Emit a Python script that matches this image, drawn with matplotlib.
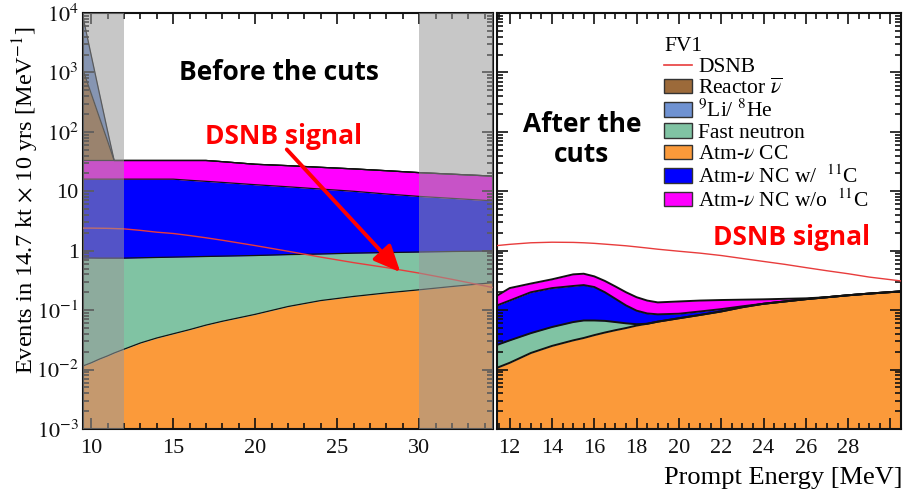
import numpy as np
import matplotlib
matplotlib.use("Agg")
import matplotlib.pyplot as plt
from matplotlib.patches import Patch
from matplotlib.lines import Line2D
from matplotlib.ticker import FixedLocator, MultipleLocator, LogLocator, NullFormatter, FixedFormatter

plt.rcParams["font.family"] = ["Liberation Serif", "DejaVu Serif"]
plt.rcParams["mathtext.fontset"] = "stix"

# ---------------- spectra before the cuts (events / MeV) ----------------
e_before = [9.5, 10, 10.5, 11, 11.4, 12, 13, 14, 15, 16, 17, 18, 20, 22, 24, 26, 28, 30, 32, 34.5]
cc_before = [0.0115, 0.013, 0.015, 0.017, 0.019, 0.022, 0.028, 0.034, 0.040, 0.047,
             0.056, 0.065, 0.085, 0.115, 0.145, 0.17, 0.195, 0.22, 0.25, 0.29]
fn_before = [0.74, 0.74, 0.735, 0.733, 0.731, 0.728, 0.732, 0.736, 0.74, 0.743,
             0.744, 0.745, 0.745, 0.745, 0.735, 0.74, 0.735, 0.73, 0.72, 0.70]
nc11_before = [15.25, 15.25, 15.25, 15.25, 15.25, 15.25, 15.24, 15.23, 15.22, 14.51,
               13.9, 13.29, 12.07, 11.04, 10.02, 9.09, 8.07, 7.25, 6.63, 5.91]
ncno11_before = [17, 17, 17, 17, 17, 17, 17, 17, 17, 17.7,
                 18.3, 17.4, 15.6, 15.1, 14.4, 13.8, 13.2, 12.4, 11.8, 11.1]
reactor_before = [1067, 407, 142, 37, 0, 0, 0, 0, 0, 0,
                  0, 0, 0, 0, 0, 0, 0, 0, 0, 0]
lihe_before = [7500, 1500, 270, 33, 0, 0, 0, 0, 0, 0,
               0, 0, 0, 0, 0, 0, 0, 0, 0, 0]
dsnb_before = [2.4, 2.4, 2.39, 2.38, 2.36, 2.33, 2.2, 2.05, 1.95, 1.8,
               1.65, 1.5, 1.22, 0.98, 0.78, 0.63, 0.52, 0.42, 0.33, 0.24]

# ---------------- spectra after the cuts ----------------
e_after = [11.4, 12, 13, 14, 15, 15.5, 16, 16.5, 17, 17.5, 18, 18.5,
           19, 20, 21, 22, 23, 24, 25, 26, 27, 28, 29, 30.5]
cc_after = [0.0107, 0.013, 0.019, 0.025, 0.031, 0.034, 0.038, 0.042, 0.046, 0.050, 0.055, 0.059,
            0.064, 0.073, 0.083, 0.095, 0.112, 0.128, 0.14, 0.153, 0.165, 0.178, 0.19, 0.207]
fn_after = [0.0153, 0.018, 0.022, 0.027, 0.032, 0.033, 0.029, 0.024, 0.017, 0.010, 0.003, 0,
            0, 0, 0, 0, 0, 0, 0, 0, 0, 0, 0, 0]
nc11_after = [0.094, 0.114, 0.159, 0.183, 0.192, 0.197, 0.178, 0.134, 0.092, 0.060, 0.040, 0.029,
              0.021, 0.014, 0.012, 0.009, 0.004, 0, 0, 0, 0, 0, 0, 0]
ncno11_after = [0.055, 0.09, 0.08, 0.095, 0.145, 0.146, 0.125, 0.11, 0.095, 0.08, 0.067, 0.057,
                0.05, 0.053, 0.05, 0.044, 0.034, 0.024, 0.015, 0.005, 0, 0, 0, 0]
dsnb_after = [1.22, 1.28, 1.36, 1.39, 1.38, 1.36, 1.33, 1.29, 1.25, 1.21, 1.16, 1.11,
              1.06, 0.98, 0.91, 0.83, 0.74, 0.66, 0.59, 0.52, 0.46, 0.41, 0.36, 0.31]

ytick_vals = [1e-3, 1e-2, 1e-1, 1, 10, 1e2, 1e3, 1e4]
ytick_text = [r"$10^{-3}$", r"$10^{-2}$", r"$10^{-1}$", "1", "10", r"$10^{2}$", r"$10^{3}$", r"$10^{4}$"]

labels = ["DSNB", r"Reactor $\overline{\nu}$", r"$^{9}$Li/ $^{8}$He", "Fast neutron",
          r"Atm-$\nu$ CC", r"Atm-$\nu$ NC w/  $^{11}$C", r"Atm-$\nu$ NC w/o  $^{11}$C"]

c_cc = "#fb9a3a"
c_fn = "#80c3a3"
c_nc11 = "#0000ff"
c_ncno = "#ff00ff"
c_reac = "#9c6a3a"
c_lihe = "#6f92d2"
c_dsnb = "#e83c3c"

fig = plt.figure(figsize=(9.14, 4.97), dpi=100)
H = 497.0
W = 914.0
ax1 = fig.add_axes([83 / W, (H - 429) / H, (493 - 83) / W, (429 - 13) / H])
ax2 = fig.add_axes([497 / W, (H - 429) / H, (901 - 497) / W, (429 - 13) / H])

ymin = 1e-3


def stack(ax, x, layers, lw):
    cum = np.zeros(len(x))
    for vals, col in layers:
        top = cum + np.asarray(vals, dtype=float)
        lower = np.maximum(cum, ymin)
        ax.fill_between(x, lower, np.maximum(top, ymin), color=col, lw=0, zorder=1)
        cum = top
    cum = np.zeros(len(x))
    for vals, col in layers:
        cum = cum + np.asarray(vals, dtype=float)
        ax.plot(x, np.maximum(cum, ymin), color="#111111", lw=lw, zorder=2)


stack(ax1, e_before, [(cc_before, c_cc), (fn_before, c_fn), (nc11_before, c_nc11),
                      (ncno11_before, c_ncno), (reactor_before, c_reac), (lihe_before, c_lihe)], 0.9)
ax1.plot(e_before, dsnb_before, color=c_dsnb, lw=1.0, zorder=3)
ax1.axvspan(9.5, 12, color="#999999", alpha=0.55, lw=0, zorder=4)
ax1.axvspan(30, 34.5, color="#999999", alpha=0.55, lw=0, zorder=4)

stack(ax2, e_after, [(cc_after, c_cc), (fn_after, c_fn), (nc11_after, c_nc11),
                     (ncno11_after, c_ncno)], 1.4)
ax2.plot(e_after, dsnb_after, color=c_dsnb, lw=1.0, zorder=3)

for ax in (ax1, ax2):
    ax.set_yscale("log")
    ax.set_ylim(1e-3, 1e4)
    ax.yaxis.set_major_locator(FixedLocator(ytick_vals))
    ax.yaxis.set_minor_locator(LogLocator(base=10, subs=np.arange(2, 10), numticks=20))
    ax.yaxis.set_minor_formatter(NullFormatter())
    ax.tick_params(which="both", direction="in", top=True, right=True, width=1.2, colors="#111111")
    ax.tick_params(which="major", length=8, labelsize=16, pad=7)
    ax.tick_params(which="minor", length=4)
    ax.tick_params(axis="y", which="major", pad=3)
    for s in ax.spines.values():
        s.set_linewidth(1.5)
        s.set_color("#111111")

ax1.set_xlim(9.5, 34.5)
ax1.xaxis.set_major_locator(MultipleLocator(5))
ax1.xaxis.set_minor_locator(MultipleLocator(1))
ax1.yaxis.set_major_formatter(FixedFormatter(ytick_text))

ax2.set_xlim(11.4, 30.5)
ax2.xaxis.set_major_locator(FixedLocator([12, 14, 16, 18, 20, 22, 24, 26, 28, 30]))
ax2.xaxis.set_major_formatter(FixedFormatter(["12", "14", "16", "18", "20", "22", "24", "26", "28", ""]))
ax2.xaxis.set_minor_locator(MultipleLocator(0.5))
ax2.yaxis.set_major_formatter(NullFormatter())

ax1.set_ylabel(r"Events in 14.7 kt $\times$ 10 yrs [MeV$^{-1}$]", fontsize=17.6)
ax1.yaxis.set_label_coords((41 - 83) / 410, (429 - 200) / 416)
fig.text(903 / W, 1 - 478 / H, "Prompt Energy [MeV]", ha="right", va="center", fontsize=19)

sans = ["Open Sans", "DejaVu Sans"]
ax1.text(0.478, 0.858, "Before the cuts", transform=ax1.transAxes, ha="center", va="center",
         family=sans, weight="bold", fontsize=19, color="black", zorder=6)
ax1.text(0.488, 0.702, "DSNB signal", transform=ax1.transAxes, ha="center", va="center",
         family=sans, weight="bold", fontsize=19, color="#ff0000", zorder=6)
ax1.annotate("", xy=(0.774, 0.377), xycoords="axes fraction",
             xytext=(0.497, 0.672), textcoords="axes fraction",
             arrowprops=dict(arrowstyle="-|>,head_length=1.0,head_width=0.45",
                             color="#ff0000", lw=2.8, mutation_scale=16, shrinkA=0, shrinkB=0),
             zorder=6)
ax2.text(0.21, 0.695, "After the\ncuts", transform=ax2.transAxes, ha="center", va="center",
         family=sans, weight="bold", fontsize=19, color="black", linespacing=1.15, zorder=6)
ax2.text(0.728, 0.461, "DSNB signal", transform=ax2.transAxes, ha="center", va="center",
         family=sans, weight="bold", fontsize=19, color="#ff0000", zorder=6)

edge = "#333333"
handles = [Line2D([], [], color=c_dsnb, lw=1.2),
           Patch(facecolor=c_reac, edgecolor=edge, lw=1),
           Patch(facecolor=c_lihe, edgecolor=edge, lw=1),
           Patch(facecolor=c_fn, edgecolor=edge, lw=1),
           Patch(facecolor=c_cc, edgecolor=edge, lw=1),
           Patch(facecolor=c_nc11, edgecolor=edge, lw=1),
           Patch(facecolor=c_ncno, edgecolor=edge, lw=1)]
leg = ax2.legend(handles, labels, title="FV1", loc="upper left",
                 bbox_to_anchor=((664 - 497) / 404, (429 - 37) / 416),
                 frameon=False, fontsize=15.5, title_fontsize=15.5, borderpad=0, borderaxespad=0,
                 labelspacing=0.06, handlelength=1.3, handleheight=0.65, handletextpad=0.3,
                 alignment="left")

fig.savefig("out.png", dpi=100)
